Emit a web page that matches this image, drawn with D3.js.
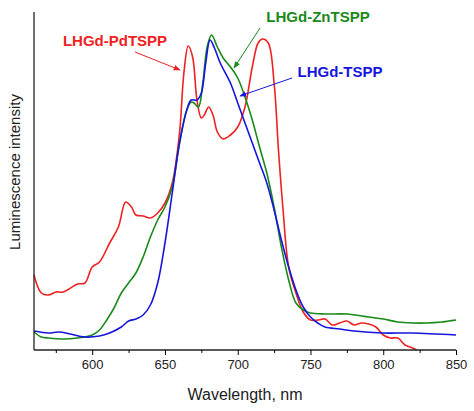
<!DOCTYPE html>
<html><head><meta charset="utf-8">
<script src="https://cdn.jsdelivr.net/npm/d3@7"></script>
<style>body{margin:0;background:#fff}text{font-family:Arial,"Liberation Sans",sans-serif}</style>
</head><body><svg id="c" width="474" height="411"></svg>
<script>
const pdX=[560,565,570,575,580,590,595,600,605,612,618,623,627,630,635,640,645,650,655,660,663,666,669,672,675,677,680,683,686,690,695,700,705,710,714,717,721,725,728,731,735,740,745,750,755,760,765,770,775,780,785,790,795,800,805,810,815,820,823];
const pdY=[75,57,55,58,58,66,67,83,88,107,123,148,143,135,134,132,137,147,167,217,277,304,293,250,232,235,243,235,218,211,215,223,243,283,307,311,307,267,200,143,83,57,38,30,30,31,25,27,29,25,27,26,23,15,12,12,5,2,0];
const znX=[560,565,570,580,590,600,605,610,615,620,625,630,635,640,645,650,655,660,665,668,670,673,676,679,682,686,690,695,700,705,710,715,720,725,730,735,740,745,750,760,775,790,800,810,820,830,840,845,850];
const znY=[18,13,12,11,12,15,20,30,42,57,67,77,93,113,130,143,163,207,240,248,247,243,267,303,315,303,292,283,272,253,230,203,177,143,103,70,47,40,37,36,36,33,31,28,27,27,28,29,30];
const tX=[560,570,577,585,595,605,612,620,625,630,635,640,645,650,655,660,665,668,672,675,678,681,684,688,695,700,705,710,715,720,725,730,735,740,745,750,755,760,770,780,800,820,850];
const tY=[19,17,18,16,13,14,17,23,29,31,35,45,67,107,157,207,240,250,250,257,287,310,302,287,267,247,227,207,187,167,140,110,83,60,43,33,27,23,21,19,17,17,15];
const xTicks=[600,650,700,750,800,850];
const seriesNames=["LHGd-PdTSPP","LHGd-ZnTSPP","LHGd-TSPP"];
const colors=["#ee2222","#1a8a1a","#1515dd"];

const svg=d3.select("#c");
const x=d3.scaleLinear().domain([560,850]).range([34,456]);
const y=d3.scaleLinear().domain([0,338]).range([350,12]);
const line=d3.line().x(d=>x(d[0])).y(d=>y(d[1])).curve(d3.curveCatmullRom);
const data=[[pdX,pdY],[znX,znY],[tX,tY]];
data.forEach((s,i)=>{
  svg.append("path").datum(s[0].map((v,j)=>[v,s[1][j]])).attr("d",line)
    .attr("fill","none").attr("stroke",colors[i]).attr("stroke-width",1.6);
});
const ax=svg.append("g").attr("transform","translate(0,350)")
  .call(d3.axisBottom(x).tickValues(xTicks).tickSize(5).tickPadding(5).tickFormat(d3.format("d")));
ax.selectAll("text").attr("font-size",13).attr("fill","#222");
ax.select(".domain").attr("stroke","#222").attr("stroke-width",1.3).attr("d","M34,0H456");
svg.append("g").attr("transform","translate(0,350)")
  .call(d3.axisBottom(x).tickValues(d3.range(575,850,50)).tickSize(3).tickFormat(""))
  .select(".domain").remove();
svg.append("line").attr("x1",34).attr("x2",34).attr("y1",12).attr("y2",350).attr("stroke","#222").attr("stroke-width",1.3);
svg.append("text").attr("x",245).attr("y",400).attr("text-anchor","middle").attr("font-size",16).attr("fill","#222").text("Wavelength, nm");
svg.append("text").attr("transform","translate(20,172) rotate(-90)").attr("text-anchor","middle").attr("font-size",15).attr("fill","#222").text("Luminescence intensity");

const labs=[[115,46],[318,22],[340,77]];
const arrows=[[[135,52],[180,70]],[[260,28],[234,68]],[[292,78],[240,96]]];
const defs=svg.append("defs");
colors.forEach((c,i)=>{
  defs.append("marker").attr("id","m"+i).attr("viewBox","0 0 10 10").attr("refX",9).attr("refY",5)
   .attr("markerWidth",7).attr("markerHeight",7).attr("orient","auto")
   .append("path").attr("d","M0,1L10,5L0,9z").attr("fill",c);
  svg.append("text").attr("x",labs[i][0]).attr("y",labs[i][1]).attr("text-anchor","middle")
   .attr("font-size",15).attr("font-weight","bold").attr("fill",colors[i]).text(seriesNames[i]);
  svg.append("line").attr("x1",arrows[i][0][0]).attr("y1",arrows[i][0][1]).attr("x2",arrows[i][1][0]).attr("y2",arrows[i][1][1])
   .attr("stroke",c).attr("stroke-width",1).attr("marker-end","url(#m"+i+")");
});
</script></body></html>
